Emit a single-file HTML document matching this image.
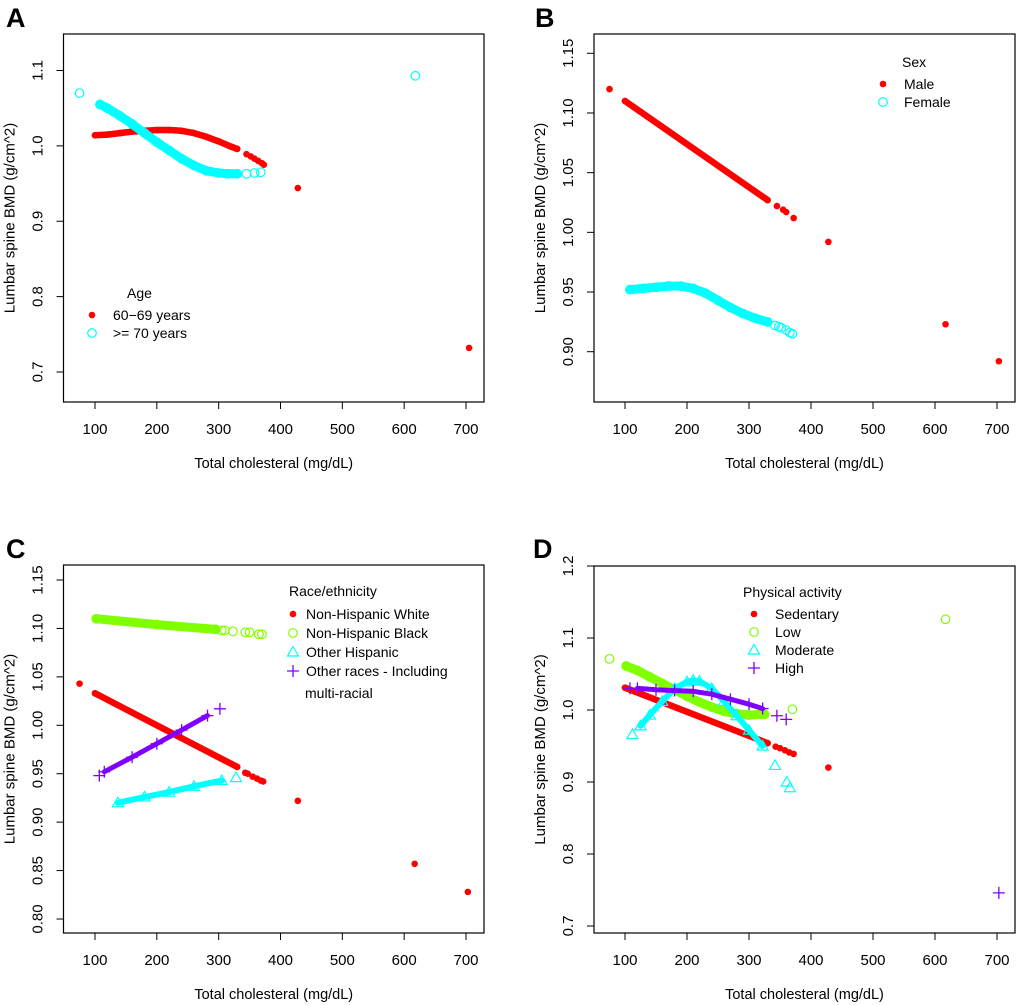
<!DOCTYPE html>
<html><head><meta charset="utf-8">
<style>
html,body{margin:0;padding:0;background:#fff;}
svg{display:block;font-family:"Liberation Sans",Arial,sans-serif;}
</style></head>
<body>
<svg id="chart" width="1020" height="1005" viewBox="0 0 1020 1005" xmlns="http://www.w3.org/2000/svg"></svg>
<script>
// ---------- shared x axis ----------
const xTicks = [100,200,300,400,500,600,700];

// ---------- Panel A: Age ----------
const aYTicks = [0.7,0.8,0.9,1.0,1.1];
const aYTickLabels = ["0.7","0.8","0.9","1.0","1.1"];
const aRedCurveX = [100,120,140,160,180,200,220,240,260,280,300,320,330];
const aRedCurveY = [1.014,1.015,1.017,1.019,1.020,1.021,1.021,1.020,1.017,1.012,1.006,0.999,0.996];
const aRedTailX = [345,352,358,364,370,373];
const aRedTailY = [0.989,0.986,0.983,0.980,0.977,0.975];
const aRedOutX = [428,705];
const aRedOutY = [0.944,0.732];
const aCyanCurveX = [108,120,140,160,180,200,220,240,260,280,300,315,330];
const aCyanCurveY = [1.055,1.050,1.040,1.029,1.017,1.005,0.994,0.983,0.974,0.967,0.964,0.963,0.963];
const aCyanOutX = [75,345,358,368,618];
const aCyanOutY = [1.070,0.963,0.964,0.965,1.093];

// ---------- Panel B: Sex ----------
const bYTicks = [0.90,0.95,1.00,1.05,1.10,1.15];
const bYTickLabels = ["0.90","0.95","1.00","1.05","1.10","1.15"];
const bRedCurveX = [100,330];
const bRedCurveY = [1.110,1.027];
const bRedOutX = [75,345,355,360,372,428,617,703];
const bRedOutY = [1.120,1.022,1.019,1.017,1.012,0.992,0.923,0.892];
const bCyanCurveX = [108,130,150,170,190,210,230,250,270,290,310,330];
const bCyanCurveY = [0.952,0.953,0.954,0.955,0.955,0.953,0.949,0.943,0.937,0.932,0.928,0.925];
const bCyanOutX = [342,348,352,360,366,370];
const bCyanOutY = [0.922,0.921,0.920,0.918,0.916,0.915];

// ---------- Panel C: Race/ethnicity ----------
const cYTicks = [0.80,0.85,0.90,0.95,1.00,1.05,1.10,1.15];
const cYTickLabels = ["0.80","0.85","0.90","0.95","1.00","1.05","1.10","1.15"];
const cRedCurveX = [100,330];
const cRedCurveY = [1.033,0.957];
const cRedOutX = [75,343,347,355,362,368,372,428,617,703];
const cRedOutY = [1.043,0.951,0.950,0.947,0.945,0.943,0.942,0.922,0.857,0.828];
const cGreenCurveX = [102,200,295];
const cGreenCurveY = [1.110,1.104,1.099];
const cGreenOutX = [305,310,323,343,350,365,370];
const cGreenOutY = [1.098,1.098,1.097,1.096,1.096,1.094,1.094];
const cCyanCurveX = [137,180,220,260,305];
const cCyanCurveY = [0.920,0.926,0.931,0.937,0.943];
const cCyanOutX = [328];
const cCyanOutY = [0.946];
const cPurpleCurveX = [115,160,200,240,282];
const cPurpleCurveY = [0.952,0.967,0.981,0.995,1.010];
const cPurpleOutX = [107,302];
const cPurpleOutY = [0.948,1.017];

// ---------- Panel D: Physical activity ----------
const dYTicks = [0.7,0.8,0.9,1.0,1.1,1.2];
const dYTickLabels = ["0.7","0.8","0.9","1.0","1.1","1.2"];
const dRedCurveX = [100,330];
const dRedCurveY = [1.031,0.954];
const dRedOutX = [343,350,358,365,372,428];
const dRedOutY = [0.949,0.947,0.944,0.941,0.939,0.920];
const dGreenCurveX = [102,120,140,160,180,200,220,240,260,280,300,325];
const dGreenCurveY = [1.061,1.055,1.046,1.037,1.028,1.019,1.011,1.004,0.998,0.995,0.993,0.994];
const dGreenOutX = [75,370,617];
const dGreenOutY = [1.071,1.001,1.126];
const dCyanCurveX = [125,140,160,180,200,210,220,240,260,280,300,322];
const dCyanCurveY = [0.978,0.993,1.012,1.030,1.039,1.041,1.040,1.030,1.012,0.992,0.972,0.950];
const dCyanOutX = [112,342,361,366];
const dCyanOutY = [0.966,0.923,0.900,0.892];
const dPurpleCurveX = [120,150,180,210,240,270,300,322];
const dPurpleCurveY = [1.030,1.028,1.027,1.026,1.022,1.015,1.008,1.002];
const dPurpleOutX = [108,345,360,703];
const dPurpleOutY = [1.030,0.992,0.987,0.746];

const NS = "http://www.w3.org/2000/svg";
const svg = document.getElementById("chart");
const RED="#ff0000", CYAN="#00ffff", GREEN="#80ff00", PURPLE="#8000ff";

function mk(tag, attrs, parent){
  const e=document.createElementNS(NS,tag);
  for(const k in attrs) e.setAttribute(k,attrs[k]);
  (parent||svg).appendChild(e);
  return e;
}
function txt(s, attrs, parent){ const t=mk("text",attrs,parent); t.textContent=s; return t; }

function marker(g, kind, cx, cy, color){
  let m;
  if(kind==="dot"){ m=mk("circle",{cx:cx,cy:cy,r:3.3,fill:color},g); }
  else if(kind==="circle"){ m=mk("circle",{cx:cx,cy:cy,r:4.3,fill:"none",stroke:color,"stroke-width":1.2},g); }
  else if(kind==="tri"){ m=mk("path",{d:`M${cx},${cy-5.5}L${cx+5.5},${cy+4}L${cx-5.5},${cy+4}Z`,fill:"none",stroke:color,"stroke-width":1.2},g); }
  else { m=mk("path",{d:`M${cx-6},${cy}H${cx+6}M${cx},${cy-6}V${cy+6}`,fill:"none",stroke:color,"stroke-width":1.3},g); }
  
  
  return m;
}

function panel(o){
  const g=mk("g",{});
  
  
  const xs=v=>o.x100+(v-100)*(o.x700-o.x100)/600;
  const ys=v=>o.yB+(v-o.vB)*(o.yT-o.yB)/(o.vT-o.vB);
  const lab=txt(o.letter,{x:o.lx,y:o.ly,"font-size":27,"font-weight":"bold",fill:"#000"},g);
  
  
  const box=mk("rect",{x:o.L,y:o.T,width:o.R-o.L,height:o.B-o.T,fill:"none",stroke:"#000","stroke-width":1.2},g);
  
  
  const xa=mk("g",{},g);
  
  
  mk("line",{x1:xs(xTicks[0]),x2:xs(xTicks[xTicks.length-1]),y1:o.B,y2:o.B,stroke:"#000"},xa);
  xTicks.forEach(v=>{
    mk("line",{x1:xs(v),x2:xs(v),y1:o.B,y2:o.B+7,stroke:"#000"},xa);
    const t=txt(String(v),{x:xs(v),y:o.B+32,"text-anchor":"middle","font-size":15,fill:"#000"},xa);
    
    
  });
  const xt=txt("Total cholesteral (mg/dL)",{x:(o.L+o.R)/2,y:o.B+66,"text-anchor":"middle","font-size":14.5,fill:"#000"},g);
  
  
  const ya=mk("g",{},g);
  
  
  mk("line",{x1:o.L,x2:o.L,y1:ys(o.yTicks[0]),y2:ys(o.yTicks[o.yTicks.length-1]),stroke:"#000"},ya);
  o.yTicks.forEach((v,i)=>{
    mk("line",{x1:o.L-7,x2:o.L,y1:ys(v),y2:ys(v),stroke:"#000"},ya);
    const t=txt(o.yLabels[i],{x:0,y:0,"text-anchor":"middle","font-size":15,fill:"#000",transform:`translate(${o.L-21},${ys(v)}) rotate(-90)`},ya);
    
    
  });
  const yt=txt("Lumbar spine BMD (g/cm^2)",{x:0,y:0,"text-anchor":"middle","font-size":15,fill:"#000",transform:`translate(${o.L-49},${(o.T+o.B)/2}) rotate(-90)`},g);
  
  
  o.series.forEach(s=>{
    const sg=mk("g",{},g);
    
    
    if(s.cx.length>1){
      const d=s.cx.map((v,i)=>(i?"L":"M")+xs(v).toFixed(1)+","+ys(s.cy[i]).toFixed(1)).join("");
      const w={dot:6.5,circle:9,tri:6,plus:5}[s.kind];
      mk("path",{d:d,fill:"none",stroke:s.color,"stroke-width":w,"stroke-linecap":"round","stroke-linejoin":"round"},sg);
    }
    s.cx.forEach((v,i)=>marker(sg,s.kind,xs(v),ys(s.cy[i]),s.color));
    s.ox.forEach((v,i)=>marker(sg,s.kind,xs(v),ys(s.oy[i]),s.color));
  });
  const lg=mk("g",{},g);
  
  
  const lt=txt(o.legTitle,{x:o.legTitleX,y:o.legTitleY,"font-size":14,fill:"#000"},lg);
  
  
  o.legItems.forEach((it,i)=>{
    const y=o.legY0+i*o.legDY;
    const e=mk("g",{},lg);
    
    
    marker(e,it.kind,o.legSymX,y,it.color);
    txt(it.label,{x:o.legTextX,y:y+5,"font-size":14,fill:"#000"},e);
  });
  if(o.extra){ const t=txt(o.extra.s,{x:o.extra.x,y:o.extra.y,"font-size":14,fill:"#000"},lg);
      }
}

panel({name:"panel-a-age",letter:"A",lx:6,ly:27,L:63.5,R:484,T:34,B:402,x100:95,x700:466,
  vB:0.7,yB:372,vT:1.1,yT:70.5,yTicks:aYTicks,yLabels:aYTickLabels,
  series:[
    {name:"series-60-69",kind:"dot",color:RED,cx:aRedCurveX,cy:aRedCurveY,ox:aRedTailX.concat(aRedOutX),oy:aRedTailY.concat(aRedOutY)},
    {name:"series-70-plus",kind:"circle",color:CYAN,cx:aCyanCurveX,cy:aCyanCurveY,ox:aCyanOutX,oy:aCyanOutY}],
  legTitle:"Age",legTitleX:127,legTitleY:298,legY0:315,legDY:18,legSymX:92,legTextX:113,
  legItems:[{kind:"dot",color:RED,label:"60\u221269 years"},{kind:"circle",color:CYAN,label:">= 70 years"}]});

panel({name:"panel-b-sex",letter:"B",lx:535,ly:27,L:594,R:1015,T:34,B:402,x100:625,x700:997,
  vB:0.90,yB:351.7,vT:1.15,yT:53.3,yTicks:bYTicks,yLabels:bYTickLabels,
  series:[
    {name:"series-male",kind:"dot",color:RED,cx:bRedCurveX,cy:bRedCurveY,ox:bRedOutX,oy:bRedOutY},
    {name:"series-female",kind:"circle",color:CYAN,cx:bCyanCurveX,cy:bCyanCurveY,ox:bCyanOutX,oy:bCyanOutY}],
  legTitle:"Sex",legTitleX:902,legTitleY:67,legY0:84,legDY:18,legSymX:883,legTextX:904,
  legItems:[{kind:"dot",color:RED,label:"Male"},{kind:"circle",color:CYAN,label:"Female"}]});

panel({name:"panel-c-race",letter:"C",lx:6,ly:558,L:63.5,R:484,T:565,B:933,x100:95,x700:466,
  vB:0.80,yB:919,vT:1.15,yT:580,yTicks:cYTicks,yLabels:cYTickLabels,
  series:[
    {name:"series-non-hispanic-black",kind:"circle",color:GREEN,cx:cGreenCurveX,cy:cGreenCurveY,ox:cGreenOutX,oy:cGreenOutY},
    {name:"series-other-hispanic",kind:"tri",color:CYAN,cx:cCyanCurveX,cy:cCyanCurveY,ox:cCyanOutX,oy:cCyanOutY},
    {name:"series-non-hispanic-white",kind:"dot",color:RED,cx:cRedCurveX,cy:cRedCurveY,ox:cRedOutX,oy:cRedOutY},
    {name:"series-other-races",kind:"plus",color:PURPLE,cx:cPurpleCurveX,cy:cPurpleCurveY,ox:cPurpleOutX,oy:cPurpleOutY}],
  legTitle:"Race/ethnicity",legTitleX:289,legTitleY:596,legY0:614,legDY:19,legSymX:293,legTextX:306,
  legItems:[{kind:"dot",color:RED,label:"Non-Hispanic White"},{kind:"circle",color:GREEN,label:"Non-Hispanic Black"},
            {kind:"tri",color:CYAN,label:"Other Hispanic"},{kind:"plus",color:PURPLE,label:"Other races - Including"}],
  extra:{s:"multi-racial",x:305,y:698}});

panel({name:"panel-d-activity",letter:"D",lx:533,ly:558,L:594,R:1015,T:566,B:933,x100:625,x700:997,
  vB:0.7,yB:926,vT:1.2,yT:566,yTicks:dYTicks,yLabels:dYTickLabels,
  series:[
    {name:"series-low",kind:"circle",color:GREEN,cx:dGreenCurveX,cy:dGreenCurveY,ox:dGreenOutX,oy:dGreenOutY},
    {name:"series-sedentary",kind:"dot",color:RED,cx:dRedCurveX,cy:dRedCurveY,ox:dRedOutX,oy:dRedOutY},
    {name:"series-moderate",kind:"tri",color:CYAN,cx:dCyanCurveX,cy:dCyanCurveY,ox:dCyanOutX,oy:dCyanOutY},
    {name:"series-high",kind:"plus",color:PURPLE,cx:dPurpleCurveX,cy:dPurpleCurveY,ox:dPurpleOutX,oy:dPurpleOutY}],
  legTitle:"Physical activity",legTitleX:743,legTitleY:597,legY0:614,legDY:18,legSymX:754,legTextX:775,
  legItems:[{kind:"dot",color:RED,label:"Sedentary"},{kind:"circle",color:GREEN,label:"Low"},
            {kind:"tri",color:CYAN,label:"Moderate"},{kind:"plus",color:PURPLE,label:"High"}]});
</script>
</body></html>
